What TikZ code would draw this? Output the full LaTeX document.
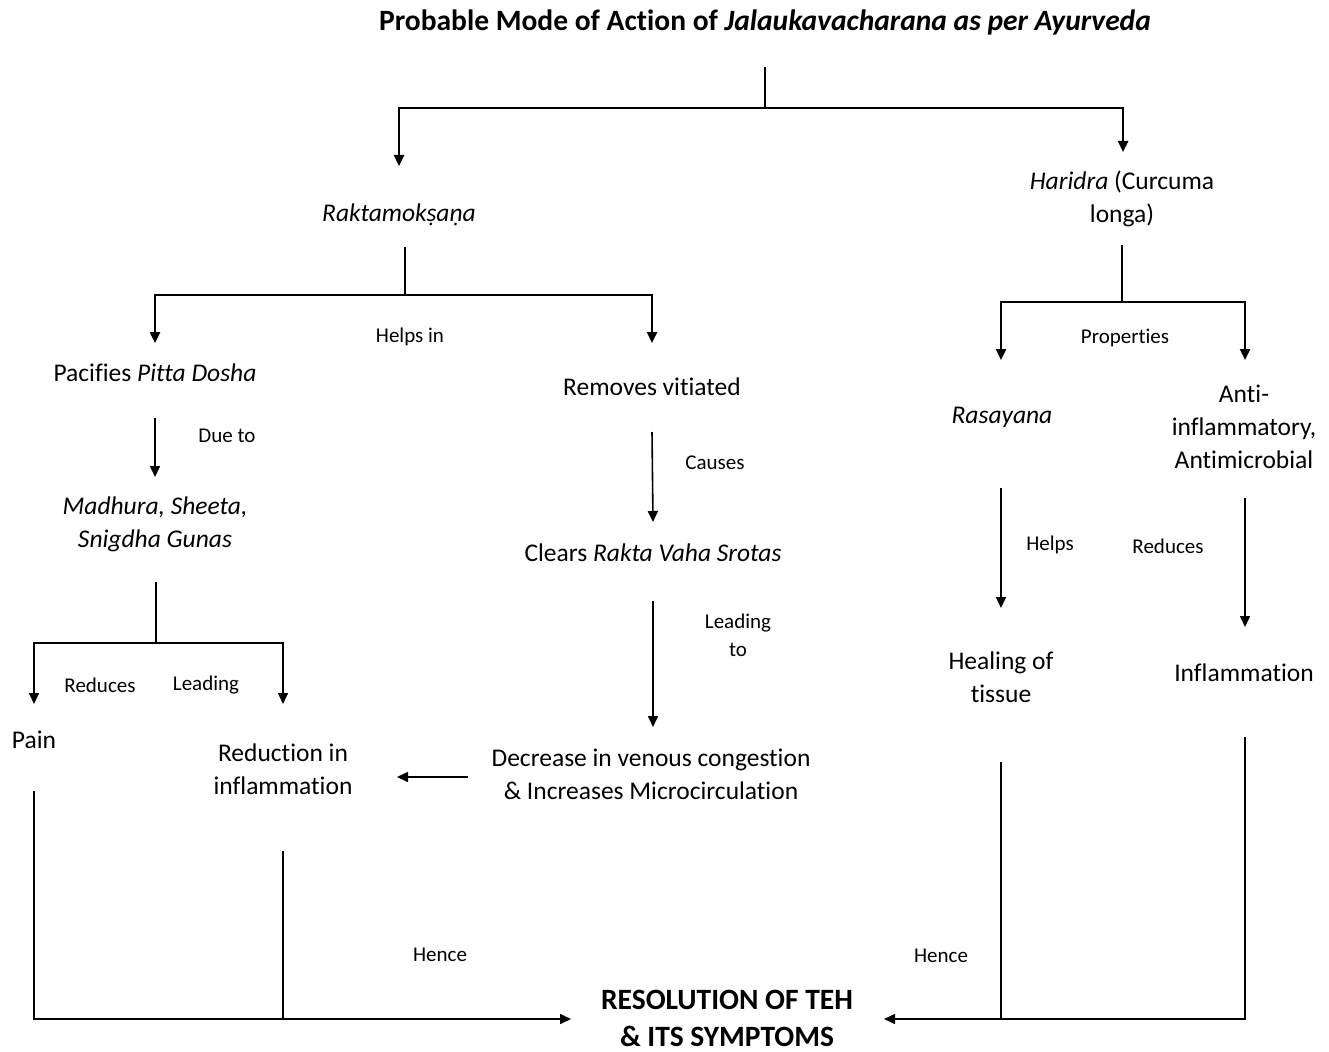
\documentclass[tikz,border=0pt]{standalone}
\usepackage{fontspec}
\setmainfont{Carlito}[Ligatures=CommonOff]
\usetikzlibrary{arrows.meta}
\begin{document}
\begin{tikzpicture}[x=1pt,y=-1pt,
  txt/.style={font=\fontsize{25.5}{33}\selectfont, align=center, inner sep=0pt, anchor=center},
  lbl/.style={font=\fontsize{21}{28}\selectfont, align=center, inner sep=0pt, anchor=center},
  ttl/.style={font=\bfseries\fontsize{29.5}{37}\selectfont, align=center, inner sep=0pt, anchor=center},
  ln/.style={line width=1.6pt},
  bln/.style={line width=2.4pt},
  arr/.style={-{Triangle[length=11pt,width=10pt]}},
]
\useasboundingbox (0,0) rectangle (1329,1051);
% texts
\node[ttl] (title) at (765,22) {Probable Mode of Action of \textit{Jalaukavacharana as per Ayurveda}};
\node[txt] (rakta) at (399,215) {\textit{Raktamokṣaṇa}};
\node[txt] (haridra) at (1122,199) {\textit{Haridra} (Curcuma\\longa)};
\node[lbl] (helpsin) at (410,337) {Helps in};
\node[txt] (pacifies) at (155,373) {Pacifies \textit{Pitta Dosha}};
\node[txt] (removes) at (652,387) {Removes vitiated};
\node[lbl] (dueto) at (227,436) {Due to};
\node[txt] (madhura) at (155,524) {\textit{Madhura, Sheeta,}\\\textit{Snigdha Gunas}};
\node[lbl] (causes) at (715,463) {Causes};
\node[txt] (clears) at (653,553) {Clears \textit{Rakta Vaha Srotas}};
\node[lbl] (leadingto) at (738,635) {Leading\\to};
\node[txt] (decrease) at (651,774) {Decrease in venous congestion\\\& Increases Microcirculation};
\node[txt] (reduction) at (283,769) {Reduction in\\inflammation};
\node[lbl] (reduces) at (100,685) {Reduces};
\node[lbl] (leading) at (206,685) {Leading};
\node[txt] (pain) at (34,740) {Pain};
\node[lbl] (hence1) at (440,955) {Hence};
\node[ttl] (resolution) at (727,1018) {RESOLUTION OF TEH\\\& ITS SYMPTOMS};
\node[lbl] (properties) at (1125,338) {Properties};
\node[txt] (rasayana) at (1002,417) {\textit{Rasayana}};
\node[txt] (anti) at (1244,427) {Anti-\\inflammatory,\\Antimicrobial};
\node[lbl] (helps) at (1050,545) {Helps};
\node[lbl] (reduces2) at (1168,546) {Reduces};
\node[txt] (healing) at (1001,677) {Healing of\\tissue};
\node[txt] (inflam) at (1244,673) {Inflammation};
\node[lbl] (hence2) at (941,956) {Hence};

% coordinates
\coordinate (t0) at (765,67);
\coordinate (t1) at (765,108);
\coordinate (tl) at (399,108);
\coordinate (tr) at (1123,108);
\coordinate (tlE) at (399,166);
\coordinate (trE) at (1123,152);

\coordinate (r0) at (405,247);
\coordinate (r1) at (405,295);
\coordinate (rl) at (155,295);
\coordinate (rr) at (652,295);
\coordinate (rlE) at (155,343);
\coordinate (rrE) at (652,343);

\coordinate (p0) at (155,418);
\coordinate (p1) at (155,477);
\coordinate (v0) at (652,432);
\coordinate (v1) at (653,522);
\coordinate (c0) at (653,601);
\coordinate (c1) at (653,727);
\coordinate (d0) at (468,777);
\coordinate (d1) at (397,777);

\coordinate (m0) at (156,582);
\coordinate (m1) at (156,643);
\coordinate (ml) at (34,643);
\coordinate (mr) at (283,643);
\coordinate (mlE) at (34,704);
\coordinate (mrE) at (283,704);

\coordinate (pa0) at (34,791);
\coordinate (pa1) at (34,1019);
\coordinate (re0) at (283,851);
\coordinate (re1) at (283,1019);
\coordinate (resL) at (571,1019);

\coordinate (h0) at (1122,245);
\coordinate (h1) at (1122,302);
\coordinate (hl) at (1001,302);
\coordinate (hr) at (1245,302);
\coordinate (hlE) at (1001,360);
\coordinate (hrE) at (1245,360);

\coordinate (ra0) at (1001,488);
\coordinate (ra1) at (1001,608);
\coordinate (an0) at (1245,498);
\coordinate (an1) at (1245,627);

\coordinate (he0) at (1001,762);
\coordinate (he1) at (1001,1019);
\coordinate (in0) at (1245,737);
\coordinate (in1) at (1245,1019);
\coordinate (resR) at (884,1019);

% connectors
\draw[bln] (t0) -- (t1);
\draw[bln,arr] (t1) -- (tl) -- (tlE);
\draw[bln,arr] (t1) -- (tr) -- (trE);

\draw[bln] (r0) -- (r1);
\draw[bln,arr] (r1) -- (rl) -- (rlE);
\draw[bln,arr] (r1) -- (rr) -- (rrE);

\draw[ln,arr] (p0) -- (p1);
\draw[ln,arr] (v0) -- (v1);
\draw[ln,arr] (c0) -- (c1);
\draw[ln,arr] (d0) -- (d1);

\draw[ln] (m0) -- (m1);
\draw[ln,arr] (m1) -- (ml) -- (mlE);
\draw[ln,arr] (m1) -- (mr) -- (mrE);

\draw[ln,arr] (pa0) -- (pa1) -- (resL);
\draw[ln] (re0) -- (re1);

\draw[bln] (h0) -- (h1);
\draw[bln,arr] (h1) -- (hl) -- (hlE);
\draw[bln,arr] (h1) -- (hr) -- (hrE);

\draw[ln,arr] (ra0) -- (ra1);
\draw[ln,arr] (an0) -- (an1);

\draw[ln] (he0) -- (he1);
\draw[ln,arr] (in0) -- (in1) -- (resR);
\end{tikzpicture}
\end{document}
